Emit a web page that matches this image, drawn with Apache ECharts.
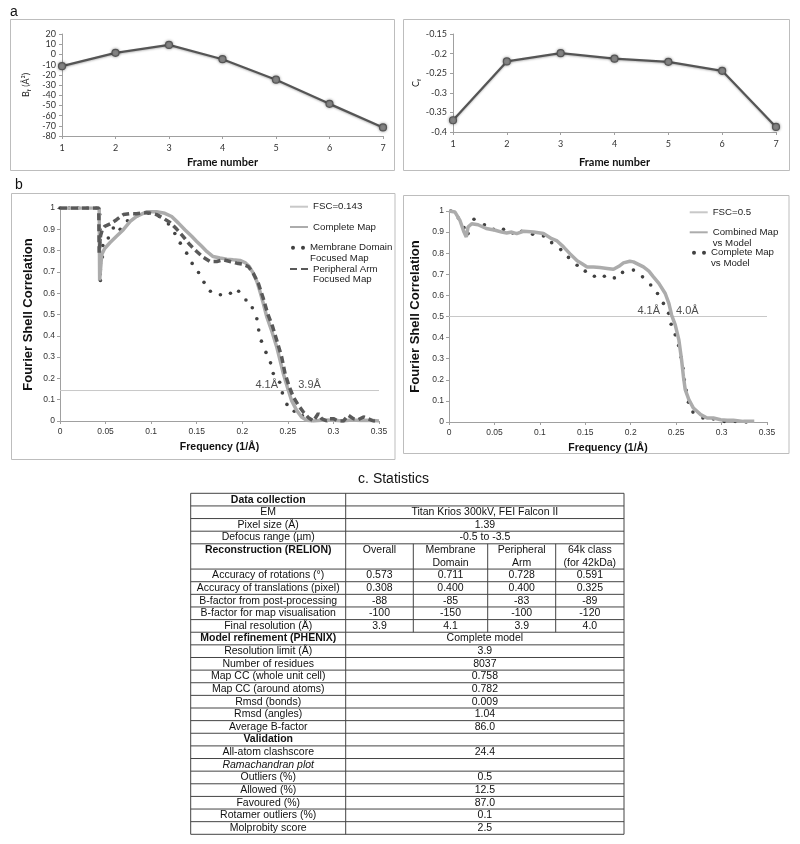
<!DOCTYPE html>
<html><head><meta charset="utf-8">
<script src="https://cdn.jsdelivr.net/npm/echarts@6/dist/echarts.min.js"></script>
<style>html,body{margin:0;padding:0;background:#fff}#c{width:800px;height:844px}</style>
</head><body><div id="c"></div>
<script>
// ---------- data ----------
const frames = [1, 2, 3, 4, 5, 6, 7];
const bFactor = [-11.5, 1.5, 9.3, -4.7, -24.8, -48.5, -71.6];
const cFactor = [-0.370, -0.220, -0.199, -0.213, -0.221, -0.244, -0.387];

const fscThresholdLeft = [[0, 0.143], [0.35, 0.143]];
const completeMap = [[0,1],[0.043,1],[0.0435,0.66],[0.045,0.74],[0.0457,0.78],[0.049,0.81],[0.055,0.838],[0.062,0.867],[0.0695,0.898],[0.077,0.937],[0.084,0.961],[0.095,0.982],[0.106,0.982],[0.115,0.975],[0.1225,0.96],[0.13,0.929],[0.137,0.898],[0.1445,0.867],[0.15,0.843],[0.1555,0.82],[0.161,0.796],[0.168,0.772],[0.1755,0.765],[0.183,0.76],[0.19,0.757],[0.1975,0.754],[0.203,0.744],[0.2077,0.725],[0.212,0.694],[0.216,0.655],[0.2195,0.607],[0.223,0.553],[0.2268,0.49],[0.232,0.427],[0.2377,0.349],[0.2414,0.286],[0.245,0.223],[0.2494,0.16],[0.254,0.097],[0.2597,0.05],[0.265,0.019],[0.2707,0.003],[0.278,0],[0.29,0.005],[0.3,0.003],[0.31,0],[0.32,0.005],[0.33,0.002],[0.34,0.003],[0.35,0]];
const peripheralArm = [[0,1],[0.0425,1],[0.043,0.79],[0.0445,0.87],[0.0465,0.9],[0.049,0.914],[0.055,0.925],[0.062,0.945],[0.0695,0.969],[0.077,0.974],[0.084,0.973],[0.0914,0.978],[0.0987,0.976],[0.106,0.969],[0.113,0.953],[0.1207,0.932],[0.128,0.901],[0.135,0.867],[0.1426,0.827],[0.15,0.796],[0.157,0.769],[0.1646,0.749],[0.172,0.749],[0.179,0.757],[0.1865,0.749],[0.194,0.741],[0.201,0.736],[0.2066,0.725],[0.212,0.694],[0.2176,0.647],[0.223,0.576],[0.2278,0.505],[0.2333,0.443],[0.2377,0.38],[0.2432,0.301],[0.2469,0.223],[0.2516,0.16],[0.256,0.113],[0.2615,0.074],[0.267,0.042],[0.2725,0.016],[0.278,0],[0.2834,0.035],[0.287,0.011],[0.2926,0],[0.296,0.011],[0.3,0.011],[0.3053,0],[0.311,0],[0.3163,0.027],[0.3218,0.011],[0.327,0.006],[0.333,0.019],[0.338,0.011],[0.3438,0],[0.35,0]];
const membraneDomain = [[0,1],[0.01,1],[0.02,1],[0.03,1],[0.04,1],[0.0435,0.97],[0.0437,0.9],[0.044,0.85],[0.0442,0.78],[0.0443,0.74],[0.0443,0.71],[0.0442,0.69],[0.0443,0.66],[0.0465,0.77],[0.047,0.824],[0.053,0.859],[0.0585,0.906],[0.066,0.90],[0.074,0.94],[0.085,0.964],[0.097,0.976],[0.109,0.96],[0.119,0.925],[0.126,0.88],[0.132,0.835],[0.139,0.788],[0.145,0.74],[0.152,0.697],[0.158,0.651],[0.165,0.609],[0.176,0.593],[0.187,0.6],[0.196,0.609],[0.204,0.568],[0.211,0.532],[0.216,0.48],[0.218,0.427],[0.221,0.375],[0.226,0.322],[0.231,0.273],[0.234,0.223],[0.241,0.182],[0.244,0.132],[0.249,0.078],[0.257,0.046],[0.266,0.024],[0.276,0.003]];

const fscThresholdRight = [[0, 0.5], [0.35, 0.5]];
const combinedVsModel = [[0,1],[0.0066,0.995],[0.012,0.956],[0.0165,0.90],[0.019,0.877],[0.021,0.924],[0.025,0.94],[0.032,0.935],[0.041,0.917],[0.051,0.909],[0.058,0.90],[0.0635,0.896],[0.069,0.90],[0.0745,0.893],[0.082,0.904],[0.093,0.90],[0.104,0.893],[0.113,0.869],[0.119,0.858],[0.126,0.83],[0.133,0.798],[0.141,0.764],[0.146,0.751],[0.152,0.735],[0.159,0.735],[0.166,0.732],[0.174,0.728],[0.181,0.724],[0.187,0.738],[0.192,0.754],[0.199,0.762],[0.203,0.759],[0.209,0.746],[0.214,0.735],[0.22,0.715],[0.225,0.688],[0.231,0.657],[0.238,0.609],[0.242,0.562],[0.245,0.507],[0.249,0.46],[0.253,0.389],[0.256,0.294],[0.258,0.216],[0.26,0.153],[0.264,0.106],[0.269,0.066],[0.277,0.035],[0.284,0.019],[0.291,0.019],[0.299,0.011],[0.306,0.008],[0.313,0.008],[0.324,0.003],[0.336,0.003]];
const completeVsModel = [[0.002,1],[0.0103,0.967],[0.0165,0.921],[0.021,0.893],[0.0275,0.961],[0.039,0.935],[0.049,0.913],[0.06,0.913],[0.07,0.896],[0.08,0.904],[0.092,0.89],[0.104,0.882],[0.113,0.85],[0.123,0.817],[0.1315,0.78],[0.141,0.743],[0.15,0.715],[0.16,0.691],[0.171,0.691],[0.182,0.683],[0.191,0.709],[0.203,0.72],[0.213,0.688],[0.222,0.649],[0.2295,0.609],[0.236,0.562],[0.2417,0.515],[0.2445,0.463],[0.249,0.413],[0.2527,0.362],[0.2555,0.307],[0.2575,0.255],[0.259,0.2],[0.261,0.15],[0.2636,0.094],[0.2685,0.047],[0.2795,0.019],[0.291,0.014],[0.303,0.003],[0.315,0.003],[0.327,0]];

const resLabelsLeft = [{name:'4.1Å', value:[0.2268,0.167]}, {name:'3.9Å', value:[0.2738,0.167]}];
const resLabelsRight = [{name:'4.1Å', value:[0.2198,0.528]}, {name:'4.0Å', value:[0.2623,0.528]}];

const tableLabels = ['Data collection','EM','Pixel size (Å)','Defocus range (µm)','Reconstruction (RELION)','Accuracy of rotations (°)','Accuracy of translations (pixel)','B-factor from post-processing','B-factor for map visualisation','Final resolution (Å)','Model refinement (PHENIX)','Resolution limit (Å)','Number of residues','Map CC (whole unit cell)','Map CC (around atoms)','Rmsd (bonds)','Rmsd (angles)','Average B-factor','Validation','All-atom clashscore','Ramachandran plot','Outliers (%)','Allowed (%)','Favoured (%)','Rotamer outliers (%)','Molprobity score'];
const tableValues = [[],['Titan Krios 300kV, FEI Falcon II'],['1.39'],['-0.5 to -3.5'],['Overall','Membrane\nDomain','Peripheral\nArm','64k class\n(for 42kDa)'],['0.573','0.711','0.728','0.591'],['0.308','0.400','0.400','0.325'],['-88','-85','-83','-89'],['-100','-150','-100','-120'],['3.9','4.1','3.9','4.0'],['Complete model'],['3.9'],['8037'],['0.758'],['0.782'],['0.009'],['1.04'],['86.0'],[],['24.4'],[],['0.5'],['12.5'],['87.0'],['0.1'],['2.5']];
const boldRows = [0, 4, 10, 18];
const italicRows = [20];
const doubleRows = [4];

// ---------- styling / layout ----------
const FA = 'Liberation Sans, Arial, sans-serif';
const FL = 'Lato, sans-serif';
const axisGrey = '#a0a0a0';

function topX(gi, gap) {
  return {type:'value', gridIndex:gi, min:1, max:7, interval:1,
    axisLine:{show:true, onZero:false, lineStyle:{color:axisGrey}}, axisTick:{show:true, length:3, lineStyle:{color:axisGrey}},
    axisLabel:{fontFamily:FL, fontSize:9, color:'#333', margin:8},
    splitLine:{show:false},
    name:'Frame number', nameLocation:'middle', nameGap:gap,
    nameTextStyle:{fontFamily:FL, fontWeight:'bold', fontSize:11, color:'#111'}};
}
function topY(gi, min, max, itv, name, gap, fmt) {
  return {type:'value', gridIndex:gi, min:min, max:max, interval:itv,
    axisLine:{show:true, onZero:false, lineStyle:{color:axisGrey}}, axisTick:{show:true, length:3, lineStyle:{color:axisGrey}},
    axisLabel:{fontFamily:FL, fontSize:9, color:'#333', margin:6, formatter:fmt},
    splitLine:{show:false},
    name:name, nameLocation:'middle', nameGap:gap,
    nameTextStyle:{fontFamily:FL, fontSize:9, color:'#222',
      rich:{m:{fontFamily:FL, fontSize:9, color:'#222', lineHeight:12}, s:{fontFamily:FL, fontSize:6, color:'#222', lineHeight:6, verticalAlign:'bottom'}}}};
}
function fscX(gi) {
  return {type:'value', gridIndex:gi, min:0, max:0.35, interval:0.05,
    axisLine:{show:true, onZero:false, lineStyle:{color:axisGrey}}, axisTick:{show:true, length:3, lineStyle:{color:axisGrey}},
    axisLabel:{fontFamily:FA, fontSize:8.5, color:'#333', margin:6, formatter:v=>String(+v.toFixed(2))},
    splitLine:{show:false},
    name:'Frequency (1/Å)', nameLocation:'middle', nameGap:21,
    nameTextStyle:{fontFamily:FA, fontWeight:'bold', fontSize:10.5, color:'#111'}};
}
function fscY(gi, gap) {
  return {type:'value', gridIndex:gi, min:0, max:1, interval:0.1,
    axisLine:{show:true, onZero:false, lineStyle:{color:axisGrey}}, axisTick:{show:true, length:3, lineStyle:{color:axisGrey}},
    axisLabel:{fontFamily:FA, fontSize:8.5, color:'#333', margin:5, formatter:v=>String(+v.toFixed(1))},
    splitLine:{show:false},
    name:'Fourier Shell Correlation', nameLocation:'middle', nameGap:gap,
    nameTextStyle:{fontFamily:FA, fontWeight:'bold', fontSize:13, color:'#111'}};
}
const dotsIcon = 'path://M0,2a2,2 0 1,0 4,0a2,2 0 1,0 -4,0zM10,2a2,2 0 1,0 4,0a2,2 0 1,0 -4,0z';
function legend(names, left, top, opts) {
  return Object.assign({show:true, orient:'vertical', left:left, top:top, padding:0, selectedMode:false,
    itemWidth:18, itemHeight:10, itemGap:9.3, data:names,
    itemStyle:{opacity:0},
    textStyle:{fontFamily:FA, fontSize:9.7, color:'#222', lineHeight:11}}, opts || {});
}
const twoLineText = {fontFamily:FA, fontSize:9.7, color:'#222', lineHeight:10.6};
// leading blank line so that the icon sits on the first visible line
const firstLineFmt = name => '\u00a0\n' + name;

// ---------- table graphics ----------
const tX = [190.7, 345.7, 413.3, 487.7, 555.7, 624];
const tTop = 493.3, tBottom = 834.3;
const units = tableLabels.length + doubleRows.length;
const rowH = (tBottom - tTop) / units;
const tableEls = [];
let yCur = tTop;
const rowTops = [];
tableLabels.forEach((lab, i) => {
  rowTops.push(yCur);
  const h = doubleRows.includes(i) ? 2 * rowH : rowH;
  const weight = boldRows.includes(i) ? 'bold ' : '';
  const ital = italicRows.includes(i) ? 'italic ' : '';
  tableEls.push({type:'text', x:(tX[0]+tX[1])/2, y:yCur, silent:true,
    style:{text:lab, font: ital + weight + '10.5px ' + FA, fill:'#111', align:'center', verticalAlign:'top', lineHeight:rowH}});
  const vals = tableValues[i];
  if (vals.length === 1) {
    tableEls.push({type:'text', x:(tX[1]+tX[5])/2, y:yCur, silent:true,
      style:{text:vals[0], font:'10.5px ' + FA, fill:'#111', align:'center', verticalAlign:'top', lineHeight:rowH}});
  } else if (vals.length === 4) {
    vals.forEach((v, k) => {
      tableEls.push({type:'text', x:(tX[k+1]+tX[k+2])/2, y:yCur, silent:true,
        style:{text:v, font:'10.5px ' + FA, fill:'#111', align:'center', verticalAlign:'top', lineHeight:rowH}});
    });
  }
  yCur += h;
});
rowTops.push(yCur);
const lineStyleT = {stroke:'#444', lineWidth:1};
rowTops.forEach(y => tableEls.push({type:'line', silent:true, shape:{x1:tX[0], y1:y, x2:tX[5], y2:y}, style:lineStyleT}));
[0,1,5].forEach(k => tableEls.push({type:'line', silent:true, shape:{x1:tX[k], y1:tTop, x2:tX[k], y2:tBottom}, style:lineStyleT}));
const splitRows = tableValues.map((v,i)=>v.length===4?i:-1).filter(i=>i>=0);
const sTop = rowTops[splitRows[0]], sBot = rowTops[splitRows[splitRows.length-1]+1];
[2,3,4].forEach(k => tableEls.push({type:'line', silent:true, shape:{x1:tX[k], y1:sTop, x2:tX[k], y2:sBot}, style:lineStyleT}));

const frameEls = [
  {type:'rect', silent:true, shape:{x:10.5, y:19.5, width:384, height:151}, style:{fill:'none', stroke:'#bdbdbd', lineWidth:1}},
  {type:'rect', silent:true, shape:{x:403.5, y:19.5, width:386, height:151}, style:{fill:'none', stroke:'#bdbdbd', lineWidth:1}},
  {type:'rect', silent:true, shape:{x:11.5, y:193.5, width:383.5, height:266}, style:{fill:'none', stroke:'#bdbdbd', lineWidth:1}},
  {type:'rect', silent:true, shape:{x:403.5, y:195.5, width:385.5, height:258}, style:{fill:'none', stroke:'#bdbdbd', lineWidth:1}},
  {type:'text', silent:true, x:10, y:12.5, style:{text:'a', font:'14px ' + FA, fill:'#111', align:'left', verticalAlign:'middle'}},
  {type:'text', silent:true, x:15, y:185, style:{text:'b', font:'14px ' + FA, fill:'#111', align:'left', verticalAlign:'middle'}},
  {type:'text', silent:true, x:393.5, y:479, style:{text:'c. Statistics', font:'14px ' + FA, fill:'#111', align:'center', verticalAlign:'middle'}}
];

const chart = echarts.init(document.getElementById('c'), null, {renderer:'canvas', width:800, height:844});
const topLine = {color:'#555', width:2.2, shadowBlur:2, shadowColor:'rgba(0,0,0,0.25)', shadowOffsetY:1};
const topItem = {color:'#8a8a8a', borderColor:'#555', borderWidth:1.2, shadowBlur:3, shadowColor:'rgba(0,0,0,0.35)'};
const labelSeries = (xi, data) => ({type:'scatter', xAxisIndex:xi, yAxisIndex:xi, data:data, symbol:'circle', symbolSize:0.1,
  itemStyle:{color:'rgba(0,0,0,0)'}, silent:true, z:10,
  label:{show:true, position:'inside', formatter:'{b}', fontFamily:FA, fontSize:11, color:'#222'}});

chart.setOption({
  backgroundColor:'#fff',
  animation:false,
  grid:[
    {left:62, top:34, width:321, height:102, outerBoundsMode:'none'},
    {left:453, top:34, width:323, height:98, outerBoundsMode:'none'},
    {left:60, top:208, width:319, height:213, outerBoundsMode:'none'},
    {left:449, top:211, width:318, height:211, outerBoundsMode:'none'}
  ],
  xAxis:[topX(0, 20.5), topX(1, 24.5), fscX(2), fscX(3)],
  yAxis:[
    topY(0, -80, 20, 10, '{m|B}{s|f}{m| (Å²)}', 29.5, v=>String(v)),
    topY(1, -0.4, -0.15, 0.05, '{m|C}{s|f}', 30.5, v=>String(+v.toFixed(2))),
    fscY(2, 25.5), fscY(3, 27.5)
  ],
  legend:[
    legend(['FSC=0.143','Complete Map'], 289, 201.2),
    legend([{name:'Membrane Domain\nFocused Map', icon:dotsIcon}], 291, 231.8, {itemWidth:14, itemHeight:4, itemStyle:{}, textStyle:twoLineText, formatter:firstLineFmt}),
    legend(['Peripheral Arm\nFocused Map'], 289, 253.1, {textStyle:twoLineText, formatter:firstLineFmt}),
    legend(['FSC=0.5'], 688.7, 206.8),
    legend(['Combined Map\nvs Model'], 688.7, 216.4, {textStyle:twoLineText, formatter:firstLineFmt}),
    legend([{name:'Complete Map\nvs Model', icon:dotsIcon}], 692, 236.8, {itemWidth:14, itemHeight:4, itemStyle:{}, textStyle:twoLineText, formatter:firstLineFmt})
  ],
  graphic:{elements: frameEls.concat(tableEls)},
  series:[
    {name:'Bf', type:'line', xAxisIndex:0, yAxisIndex:0, data:frames.map((f,i)=>[f,bFactor[i]]),
      symbol:'circle', symbolSize:7, lineStyle:topLine, itemStyle:topItem},
    {name:'Cf', type:'line', xAxisIndex:1, yAxisIndex:1, data:frames.map((f,i)=>[f,cFactor[i]]),
      symbol:'circle', symbolSize:7, lineStyle:topLine, itemStyle:topItem},
    {name:'FSC=0.143', type:'line', xAxisIndex:2, yAxisIndex:2, data:fscThresholdLeft, symbol:'none',
      lineStyle:{color:'#c8c8c8', width:1}, itemStyle:{color:'#c8c8c8'}},
    {name:'Complete Map', type:'line', xAxisIndex:2, yAxisIndex:2, data:completeMap, symbol:'none',
      lineStyle:{color:'#acacac', width:3.5}, itemStyle:{color:'#acacac'}},
    {name:'Peripheral Arm\nFocused Map', type:'line', xAxisIndex:2, yAxisIndex:2, data:peripheralArm, symbol:'none',
      lineStyle:{color:'#595959', width:3.5, type:[7,4]}, itemStyle:{color:'#595959'}},
    {name:'Membrane Domain\nFocused Map', type:'scatter', xAxisIndex:2, yAxisIndex:2, data:membraneDomain,
      symbol:'circle', symbolSize:3.6, itemStyle:{color:'#111'}},
    labelSeries(2, resLabelsLeft),
    {name:'FSC=0.5', type:'line', xAxisIndex:3, yAxisIndex:3, data:fscThresholdRight, symbol:'none',
      lineStyle:{color:'#c8c8c8', width:1}, itemStyle:{color:'#c8c8c8'}},
    {name:'Combined Map\nvs Model', type:'line', xAxisIndex:3, yAxisIndex:3, data:combinedVsModel, symbol:'none',
      lineStyle:{color:'#acacac', width:3.5}, itemStyle:{color:'#acacac'}},
    {name:'Complete Map\nvs Model', type:'scatter', xAxisIndex:3, yAxisIndex:3, data:completeVsModel,
      symbol:'circle', symbolSize:3.6, itemStyle:{color:'#111'}},
    labelSeries(3, resLabelsRight)
  ]
});
</script></body></html>
